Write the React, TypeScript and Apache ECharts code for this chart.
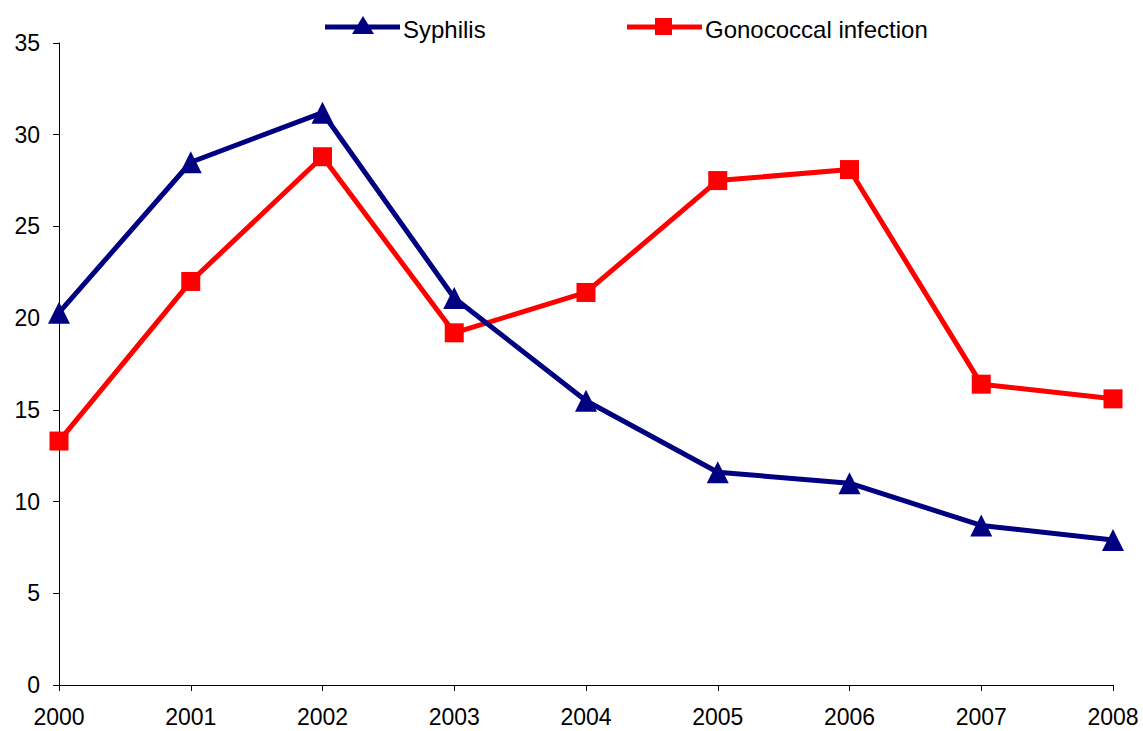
import React, { useEffect, useRef } from "react";
import * as echarts from "echarts";

const years = ["2000", "2001", "2002", "2003", "2004", "2005", "2006", "2007", "2008"];
const syphilis = [20.3, 28.5, 31.2, 21.1, 15.5, 11.6, 11.0, 8.7, 7.9];
const gonococcal = [13.3, 22.0, 28.8, 19.2, 21.4, 27.5, 28.1, 16.4, 15.6];
const seriesNames = ["Syphilis", "Gonococcal infection"];

export default function App() {
  const ref = useRef<HTMLDivElement>(null);
  useEffect(() => {
    if (!ref.current) return;
    const chart = echarts.init(ref.current, undefined, { renderer: "svg" });
    const font = "Liberation Sans, Arial, sans-serif";
    const navy = "#000080";
    const red = "#ff0000";
    const legendItem = (x: number, color: string, marker: any, name: string) => ({
      type: "group",
      children: [
        { type: "line", shape: { x1: x, y1: 27, x2: x + 75, y2: 27 }, style: { stroke: color, lineWidth: 5 } },
        marker,
        {
          type: "text",
          x: x + 78,
          y: 29,
          style: { text: name, fill: "#000", font: `24px ${font}`, textVerticalAlign: "middle", verticalAlign: "middle" },
        },
      ],
    });
    chart.setOption({
      animation: false,
      backgroundColor: "#ffffff",
      textStyle: { fontFamily: font },
      grid: { left: 59, right: 30, top: 43, bottom: 46, containLabel: false },
      graphic: [
        legendItem(
          325,
          navy,
          { type: "polygon", shape: { points: [[363, 16], [352, 34], [374, 34]] }, style: { fill: navy } },
          seriesNames[0]
        ),
        legendItem(
          627,
          red,
          { type: "rect", shape: { x: 655, y: 18, width: 17, height: 17 }, style: { fill: red } },
          seriesNames[1]
        ),
      ],
      xAxis: {
        type: "category",
        data: years,
        boundaryGap: false,
        axisLine: { lineStyle: { color: "#000", width: 1 } },
        axisTick: { show: true, alignWithLabel: true, length: 6, lineStyle: { color: "#000" } },
        axisLabel: { color: "#000", fontSize: 23, margin: 20, fontFamily: font },
        splitLine: { show: false },
      },
      yAxis: {
        type: "value",
        min: 0,
        max: 35,
        interval: 5,
        axisLine: { show: true, lineStyle: { color: "#000", width: 1 } },
        axisTick: { show: true, length: 6, lineStyle: { color: "#000" } },
        axisLabel: { color: "#000", fontSize: 23, margin: 19, fontFamily: font },
        splitLine: { show: false },
      },
      series: [
        {
          name: seriesNames[0],
          type: "line",
          data: syphilis,
          symbol: "triangle",
          symbolSize: 22,
          lineStyle: { color: navy, width: 5 },
          itemStyle: { color: navy },
          z: 3,
        },
        {
          name: seriesNames[1],
          type: "line",
          data: gonococcal,
          symbol: "rect",
          symbolSize: 19,
          lineStyle: { color: red, width: 5 },
          itemStyle: { color: red },
          z: 2,
        },
      ],
    });
    return () => chart.dispose();
  }, []);
  return (
    <div
      ref={ref}
      style={{ position: "absolute", left: 0, top: 0, width: 1143, height: 731 }}
    />
  );
}
